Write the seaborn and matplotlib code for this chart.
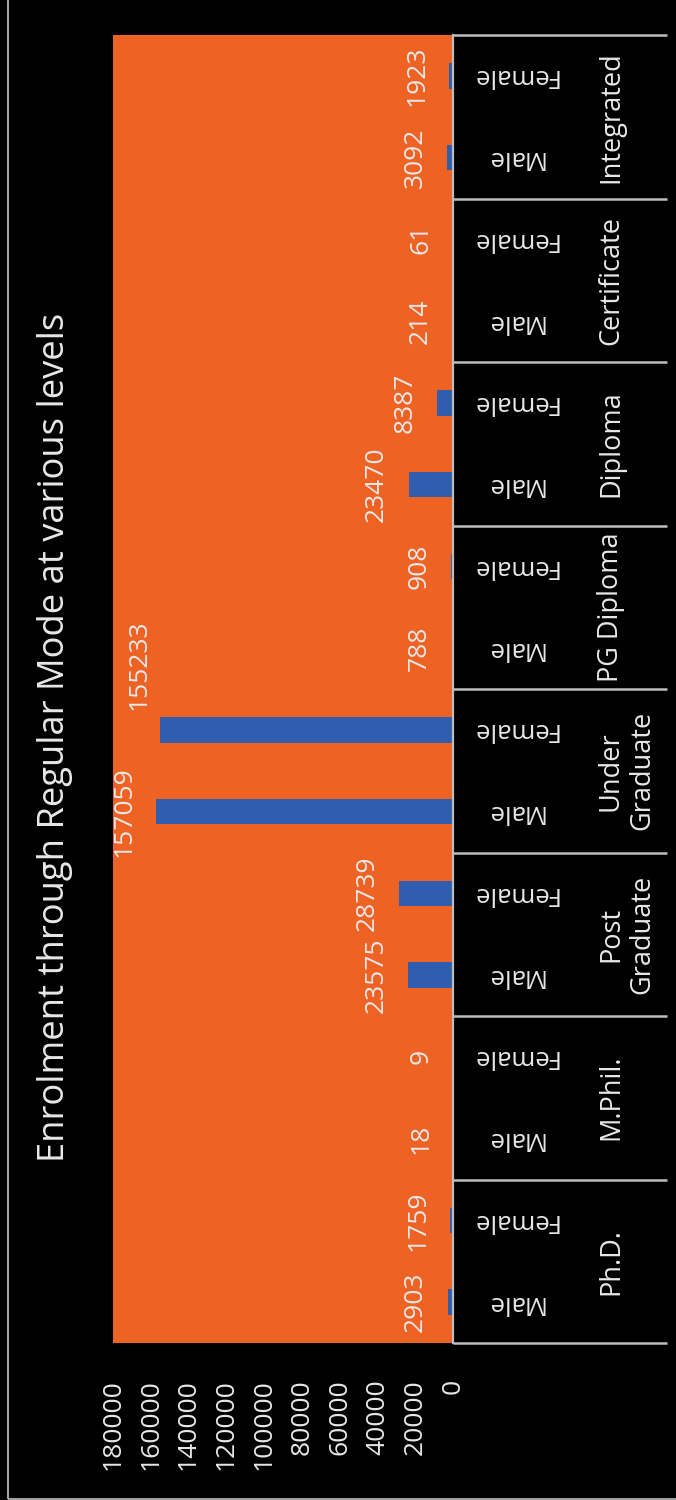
import matplotlib
matplotlib.use("Agg")
import matplotlib.pyplot as plt
import matplotlib.transforms as mtransforms
from matplotlib.patches import Rectangle
import pandas as pd
import seaborn as sns

# Enrolment counts by level and sex
levels = ["Ph.D.", "M.Phil.", "Post\nGraduate", "Under\nGraduate",
          "PG Diploma", "Diploma", "Certificate", "Integrated"]
male = [2903, 18, 23575, 157059, 788, 23470, 214, 3092]
female = [1759, 9, 28739, 155233, 908, 8387, 61, 1923]
sexes = ["Female", "Male"]
value_ticks = [0, 20000, 40000, 60000, 80000, 100000, 120000, 140000, 160000, 180000]
title = "Enrolment through Regular Mode at various levels"

ORANGE = "#EE6224"
BLUE = "#2F5EAE"
TEXT = "#E8E8E8"
LINE = "#BDBDBD"

df = pd.DataFrame({
    "level": levels * 2,
    "sex": ["Male"] * len(levels) + ["Female"] * len(levels),
    "count": male + female,
})

sns.set_theme(style="white")
plt.rcParams["font.family"] = ["Open Sans", "DejaVu Sans"]

W, H = 676, 1500
fig = plt.figure(figsize=(W / 100, H / 100), dpi=100, facecolor="black")

def px_axes(x0, y0, x1, y1):
    return [x0 / W, 1 - y1 / H, (x1 - x0) / W, (y1 - y0) / H]

ax = fig.add_axes(px_axes(113, 35, 453, 1343))
ax.set_facecolor(ORANGE)

order = levels[::-1]
sns.barplot(data=df, x="count", y="level", hue="sex", order=order,
            hue_order=sexes, palette={"Male": BLUE, "Female": BLUE},
            orient="h", width=1.0, gap=0.69, errorbar=None,
            saturation=1, legend=False, ax=ax, linewidth=0)

ax.set_xlim(180000, 0)
ax.set_ylim(len(levels) - 0.5, -0.5)
ax.set_xticks(value_ticks)
ax.set_xticklabels([str(v) for v in value_ticks], rotation=90,
                   color=TEXT, fontsize=19)
ax.tick_params(axis="x", length=0, pad=26)
ax.set_yticks([])
ax.set_xlabel("")
ax.set_ylabel("")
for side in ["top", "bottom", "left"]:
    ax.spines[side].set_visible(False)
ax.spines["right"].set_color(LINE)
ax.spines["right"].set_linewidth(1.6)

# value labels at the end of every bar
label_sets = {}
for cont, sex in zip(ax.containers, sexes):
    label_sets[sex] = ax.bar_label(
        cont, labels=[f"{int(b.get_width())}" for b in cont],
        padding=14, rotation=90, color=TEXT, fontsize=19)

# the two tallest labels would collide; lift the female one clear
ug = order.index("Under\nGraduate")
t = label_sets["Female"][ug]
dx, dy = t.xyann
t.xyann = (dx + 8, dy + 47)

# category table on the right
blend = mtransforms.blended_transform_factory(ax.transAxes, ax.transData)
x_end = (667 - 113) / 340
for k in range(len(levels) + 1):
    ax.plot([1.0, x_end], [k - 0.5, k - 0.5], color=LINE, lw=1.8,
            transform=blend, clip_on=False, solid_capstyle="butt")

x_sex = (514 - 113) / 340
x_lvl = (597 - 113) / 340
for i, lvl in enumerate(order):
    ax.text(x_lvl, i, lvl, transform=blend, rotation=90, ha="left",
            va="center", multialignment="center", color=TEXT, fontsize=19.5,
            linespacing=1.15)
    ax.text(x_sex, i - 0.25, "Female", transform=blend, rotation=180,
            ha="center", va="center", color=TEXT, fontsize=18.5)
    ax.text(x_sex, i + 0.25, "Male", transform=blend, rotation=180,
            ha="center", va="center", color=TEXT, fontsize=18.5)

fig.text(55 / W, 1 - 737 / H, title, rotation=90, ha="center", va="center",
         color=TEXT, fontsize=26.2)

fig.add_artist(Rectangle((8 / W, 1.5 / H), 1.0, 1 - 1.5 / H + 0.01,
                         transform=fig.transFigure, fill=False,
                         edgecolor="#A0A0A0", linewidth=1.5))

fig.savefig("out.png", dpi=100, facecolor="black")
